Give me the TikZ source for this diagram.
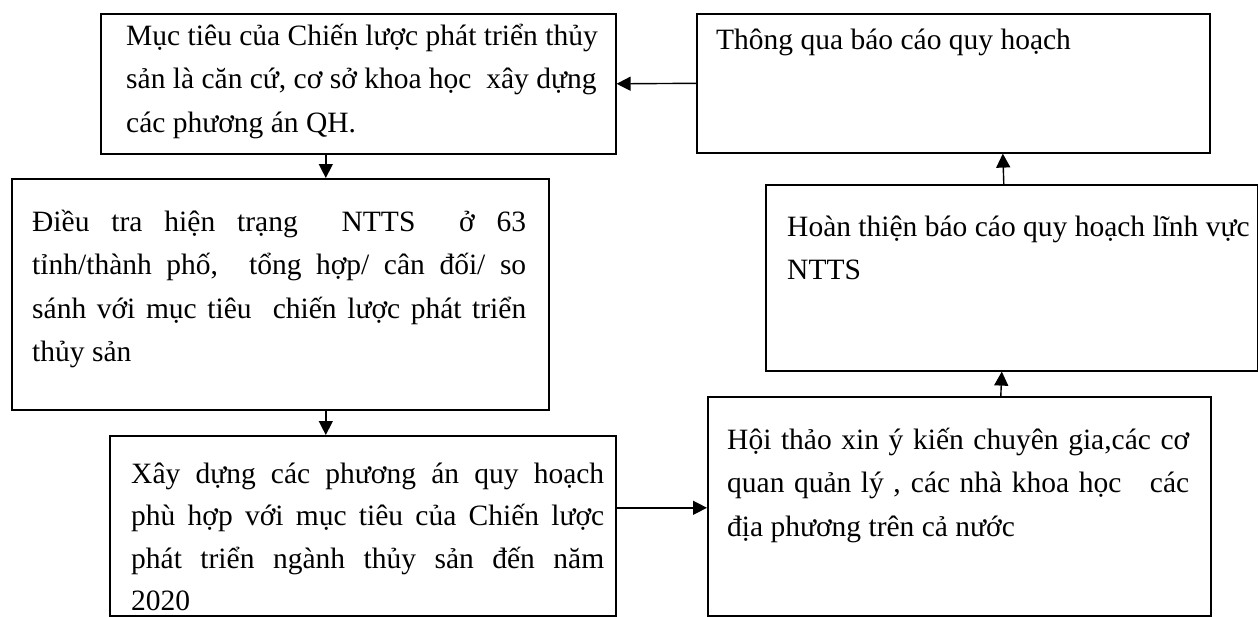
\documentclass[tikz,border=0pt]{standalone}
\usepackage{fontspec}
\setmainfont{Liberation Serif}
\usetikzlibrary{arrows.meta}
\tikzset{
  box/.style={draw=black, line width=1.6pt, inner sep=0pt, anchor=north west},
  txt/.style={inner sep=0pt, anchor=base west, font=\fontsize{29.5pt}{43.5pt}\selectfont},
  arr/.style={line width=1.4pt, -{Triangle[length=14pt,width=14pt]}}
}
\newcommand{\jl}[2]{\makebox[#1][s]{#2}}
\begin{document}
\begin{tikzpicture}[x=1pt,y=-1pt]
\useasboundingbox (0,0) rectangle (1258,616);
% boxes
\node[box, minimum width=515pt, minimum height=140pt] (b1) at (100,13) {};
\node[box, minimum width=513pt, minimum height=139pt] (b2) at (696,13) {};
\node[box, minimum width=537pt, minimum height=231pt] (b3) at (11,178) {};
\node[box, minimum width=492pt, minimum height=186pt] (b4) at (765,184) {};
\node[box, minimum width=506pt, minimum height=180pt] (b5) at (109,435) {};
\node[box, minimum width=503pt, minimum height=219pt] (b6) at (707,396) {};
% texts
\node[txt] (t1) at (126,45) {\parbox[t]{490pt}{Mục tiêu của Chiến lược phát triển thủy\\
sản là căn cứ, cơ sở khoa học \ xây dựng\\
các phương án QH.}};
\node[txt] (t2) at (716,49) {Thông qua báo cáo quy hoạch};
\node[txt] (t3) at (32,231) {\parbox[t]{494pt}{\jl{494pt}{Điều tra hiện trạng \ NTTS \ ở 63}\\
\jl{494pt}{tỉnh/thành phố, \ tổng hợp/ cân đối/ so}\\
\jl{494pt}{sánh với mục tiêu \ chiến lược phát triển}\\
thủy sản}};
\node[txt] (t4) at (787,236) {\parbox[t]{465pt}{Hoàn thiện báo cáo quy hoạch lĩnh vực\\
NTTS}};
\node[txt, font=\fontsize{29.5pt}{42.5pt}\selectfont] (t5) at (131,483) {\parbox[t]{473pt}{\jl{473pt}{Xây dựng các phương án quy hoạch}\\
\jl{473pt}{phù hợp với mục tiêu của Chiến lược}\\
\jl{473pt}{phát triển ngành thủy sản đến năm}\\
2020}};
\node[txt] (t6) at (727,449) {\parbox[t]{462pt}{\jl{462pt}{Hội thảo xin ý kiến chuyên gia,các cơ}\\
\jl{462pt}{quan quản lý , các nhà khoa học \ \ các}\\
địa phương trên cả nước}};
% connectors
\draw[arr] (b2.west) -- (b1.east);
\draw[arr] ([xshift=-32.5pt]b1.south) -- ([xshift=45.5pt]b3.north);
\draw[arr] ([xshift=45.5pt]b3.south) -- ([xshift=-37pt]b5.north);
\draw[arr] ([yshift=18pt]b5.east) -- ([yshift=-1.5pt]b6.west);
\draw[arr] ([xshift=41.5pt]b6.north) -- ([xshift=-10pt]b4.south);
\draw[arr] ([xshift=-8pt]b4.north) -- ([xshift=49.5pt]b2.south);
\end{tikzpicture}
\end{document}
